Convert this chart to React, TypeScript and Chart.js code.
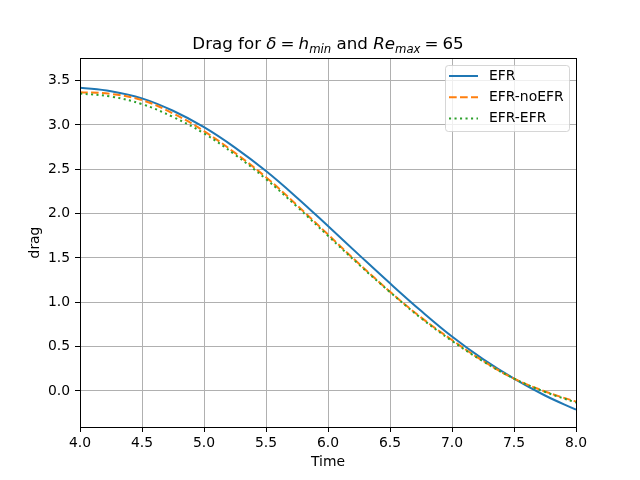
import React, { useEffect, useRef } from 'react'
import { Chart, registerables, Plugin } from 'chart.js'
Chart.register(...registerables)

const times = [4.0, 4.25, 4.5, 4.75, 5.0, 5.25, 5.5, 5.75, 6.0, 6.25, 6.5, 6.75, 7.0, 7.25, 7.5, 7.75, 8.0]
const efr = [3.42, 3.38, 3.3, 3.16, 2.975, 2.745, 2.48, 2.18, 1.86, 1.535, 1.214, 0.904, 0.614, 0.359, 0.139, -0.051, -0.211]
const efrNoEfr = [3.37, 3.35, 3.28, 3.13, 2.93, 2.685, 2.41, 2.095, 1.765, 1.435, 1.12, 0.83, 0.575, 0.34, 0.14, -0.005, -0.12]
const efrEfr = [3.355, 3.32, 3.235, 3.09, 2.905, 2.665, 2.39, 2.078, 1.75, 1.425, 1.115, 0.822, 0.565, 0.335, 0.14, -0.01, -0.13]

const xTicks = [4.0, 4.5, 5.0, 5.5, 6.0, 6.5, 7.0, 7.5, 8.0]
const yTicks = [0.0, 0.5, 1.0, 1.5, 2.0, 2.5, 3.0, 3.5]

const FONT = "'DejaVu Sans', sans-serif"
const TICK_SIZE = 13.9

// title pieces: plain text, math italic, subscripts, extra gap (px) either side
const titleParts = [
    { t: 'Drag for ', it: false, sub: false, gap: 0 },
    { t: 'δ', it: true, sub: false, gap: 0 },
    { t: '=', it: false, sub: false, gap: 4 },
    { t: 'h', it: true, sub: false, gap: 0 },
    { t: 'min', it: true, sub: true, gap: 0 },
    { t: ' and ', it: false, sub: false, gap: 0 },
    { t: 'Re', it: true, sub: false, gap: 0 },
    { t: 'max', it: true, sub: true, gap: 0 },
    { t: '=', it: false, sub: false, gap: 4 },
    { t: '65', it: false, sub: false, gap: 0 },
]

const decor: Plugin = {
    id: 'decor',
    afterDraw(chart) {
        const ctx = chart.ctx
        const a = chart.chartArea
        ctx.save()

        // frame
        ctx.strokeStyle = 'black'
        ctx.lineWidth = 1
        ctx.setLineDash([])
        ctx.strokeRect(Math.round(a.left) + 0.5, Math.round(a.top) + 0.5, Math.round(a.right - a.left), Math.round(a.bottom - a.top))

        // title
        const size = 16.7
        const fontOf = (p: { it: boolean; sub: boolean }) =>
            `${p.it ? 'italic ' : ''}${p.sub ? size * 0.7 : size}px ${FONT}`
        let total = 0
        for (const p of titleParts) {
            ctx.font = fontOf(p)
            total += ctx.measureText(p.t).width + 2 * p.gap
        }
        let x = (a.left + a.right) / 2 - total / 2
        const base = 49
        ctx.fillStyle = 'black'
        ctx.textBaseline = 'alphabetic'
        ctx.textAlign = 'left'
        for (const p of titleParts) {
            ctx.font = fontOf(p)
            x += p.gap
            ctx.fillText(p.t, x, p.sub ? base + 3.5 : base)
            x += ctx.measureText(p.t).width + p.gap
        }

        // legend
        const lx = 445.5, ly = 65.5, lw = 124, lh = 66
        ctx.beginPath()
        ctx.roundRect(lx, ly, lw, lh, 3)
        ctx.fillStyle = 'rgba(255,255,255,0.8)'
        ctx.fill()
        ctx.strokeStyle = 'rgba(204,204,204,0.8)'
        ctx.stroke()
        ctx.font = `${TICK_SIZE}px ${FONT}`
        ctx.textBaseline = 'middle'
        chart.data.datasets.forEach((ds: any, i: number) => {
            const y = 76 + i * 21.3
            ctx.beginPath()
            ctx.strokeStyle = ds.borderColor
            ctx.lineWidth = ds.borderWidth
            ctx.setLineDash(ds.borderDash || [])
            ctx.moveTo(449, y)
            ctx.lineTo(478, y)
            ctx.stroke()
            ctx.setLineDash([])
            ctx.fillStyle = 'black'
            ctx.fillText(ds.label, 489, y)
        })
        ctx.restore()
    },
}

export default function App() {
    const ref = useRef<HTMLCanvasElement | null>(null)

    useEffect(() => {
        document.body.style.margin = '0'
        if (!ref.current) {
            return
        }
        const pts = (ys: number[]) => times.map((t, i) => ({ x: t, y: ys[i] }))
        const tickFont = { family: FONT, size: TICK_SIZE }

        const chart = new Chart(ref.current, {
            type: 'line',
            data: {
                datasets: [
                    {
                        label: 'EFR',
                        data: pts(efr),
                        borderColor: '#1f77b4',
                        borderWidth: 2,
                        order: 3,
                    },
                    {
                        label: 'EFR-noEFR',
                        data: pts(efrNoEfr),
                        borderColor: '#ff7f0e',
                        borderWidth: 2,
                        borderDash: [7.7, 3.3],
                        order: 2,
                    },
                    {
                        label: 'EFR-EFR',
                        data: pts(efrEfr),
                        borderColor: '#2ca02c',
                        borderWidth: 2,
                        borderDash: [2.1, 3.4],
                        order: 1,
                    },
                ],
            },
            options: {
                animation: false,
                responsive: true,
                maintainAspectRatio: false,
                layout: { padding: { top: 58, right: 64, left: 0, bottom: 0 } },
                elements: {
                    point: { radius: 0 },
                    line: { tension: 0.4, fill: false },
                },
                plugins: {
                    legend: { display: false },
                    title: { display: false },
                    tooltip: { enabled: false },
                },
                scales: {
                    x: {
                        type: 'linear',
                        min: 4,
                        max: 8,
                        afterBuildTicks: (s: any) => {
                            s.ticks = xTicks.map((v) => ({ value: v }))
                        },
                        afterFit: (s: any) => {
                            s.height = 53
                        },
                        ticks: {
                            callback: (v: any) => Number(v).toFixed(1),
                            color: 'black',
                            font: tickFont,
                            padding: 3,
                            maxRotation: 0,
                            autoSkip: false,
                        },
                        grid: { color: '#b0b0b0', lineWidth: 1, tickColor: 'black', tickLength: 5 },
                        border: { display: false },
                        title: {
                            display: true,
                            text: 'Time',
                            color: 'black',
                            font: tickFont,
                            padding: { top: 0, bottom: 9 },
                        },
                    },
                    y: {
                        type: 'linear',
                        min: -0.406,
                        max: 3.755,
                        afterBuildTicks: (s: any) => {
                            s.ticks = yTicks.map((v) => ({ value: v }))
                        },
                        afterFit: (s: any) => {
                            s.width = 80
                        },
                        ticks: {
                            callback: (v: any) => Number(v).toFixed(1),
                            color: 'black',
                            font: tickFont,
                            padding: 5,
                            autoSkip: false,
                        },
                        grid: { color: '#b0b0b0', lineWidth: 1, tickColor: 'black', tickLength: 5 },
                        border: { display: false },
                        title: {
                            display: true,
                            text: 'drag',
                            color: 'black',
                            font: tickFont,
                            padding: { top: 27, bottom: 0 },
                        },
                    },
                },
            },
            plugins: [decor],
        })
        return () => chart.destroy()
    }, [])

    return (
        <div style={{ position: 'relative', width: 640, height: 480 }}>
            <canvas ref={ref}></canvas>
        </div>
    )
}
